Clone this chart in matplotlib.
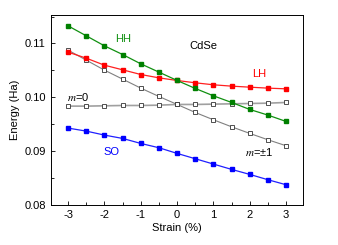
import numpy as np
import matplotlib
matplotlib.use('Agg')
import matplotlib.pyplot as plt
from matplotlib.ticker import MultipleLocator

plt.rcParams['font.family'] = ['Liberation Sans', 'DejaVu Sans']
plt.rcParams['mathtext.fontset'] = 'stix'

strain = [-3, -2.5, -2, -1.5, -1, -0.5, 0, 0.5, 1, 1.5, 2, 2.5, 3]
hh = [0.11327, 0.11142, 0.10956, 0.10795, 0.10622, 0.10468, 0.10313,
      0.10165, 0.10028, 0.09905, 0.09775, 0.09670, 0.09552]
lh = [0.10839, 0.10727, 0.10597, 0.10511, 0.10424, 0.10362, 0.10313,
      0.10270, 0.10233, 0.10208, 0.10189, 0.10171, 0.10158]
m_pm1 = [0.10876, 0.10690, 0.10505, 0.10338, 0.10171, 0.10016, 0.09868,
         0.09719, 0.09583, 0.09453, 0.09330, 0.09212, 0.09101]
m_0 = [0.09837, 0.09837, 0.09843, 0.09849, 0.09849, 0.09855, 0.09868,
       0.09868, 0.09874, 0.09880, 0.09886, 0.09892, 0.09905]
so = [0.09429, 0.09373, 0.09299, 0.09237, 0.09144, 0.09064, 0.08959,
      0.08860, 0.08761, 0.08662, 0.08569, 0.08470, 0.08377]

fig = plt.figure(figsize=(3.38, 2.45), dpi=100)
ax = fig.add_axes([0.150, 0.163, 0.746, 0.776])

ax.plot(strain, m_0, color='#a0a0a0', linewidth=1.2, marker='s', markersize=2.6,
        markerfacecolor='white', markeredgecolor='#333333', markeredgewidth=0.6)
ax.plot(strain, m_pm1, color='#808080', linewidth=0.8, marker='s', markersize=2.6,
        markerfacecolor='white', markeredgecolor='#333333', markeredgewidth=0.6)
ax.plot(strain, lh, color='#ff2020', linewidth=0.9, marker='s', markersize=2.6,
        markerfacecolor='#ff0000', markeredgecolor='#ff0000')
ax.plot(strain, hh, color='#109010', linewidth=0.9, marker='s', markersize=2.6,
        markerfacecolor='#008000', markeredgecolor='#008000')
ax.plot(strain, so, color='#2020ff', linewidth=0.9, marker='s', markersize=2.6,
        markerfacecolor='#0000ff', markeredgecolor='#0000ff')

ax.text(-1.49, 0.1109, 'HH', color='#109010', fontsize=8, ha='center', va='center')
ax.text(0.73, 0.1096, 'CdSe', color='black', fontsize=8, ha='center', va='center')
ax.text(2.27, 0.1044, 'LH', color='#ff0000', fontsize=8, ha='center', va='center')
ax.text(-2.72, 0.1001, '$m$=0', color='black', fontsize=8, ha='center', va='center')
ax.text(-1.81, 0.0899, 'SO', color='#0000ff', fontsize=8, ha='center', va='center')
ax.text(2.27, 0.0898, '$m$=\u00b11', color='black', fontsize=8, ha='center', va='center')

ax.set_xlim(-3.48, 3.46)
ax.set_ylim(0.08, 0.1153)
ax.xaxis.set_major_locator(MultipleLocator(1))
ax.xaxis.set_minor_locator(MultipleLocator(0.5))
ax.yaxis.set_major_locator(MultipleLocator(0.01))
ax.yaxis.set_minor_locator(MultipleLocator(0.005))
ax.set_xticks([-3, -2, -1, 0, 1, 2, 3])
ax.set_xticklabels(['-3', '-2', '-1', '0', '1', '2', '3'])
ax.set_yticks([0.08, 0.09, 0.10, 0.11])
ax.set_yticklabels(['0.08', '0.09', '0.10', '0.11'])
ax.tick_params(which='both', direction='in', labelsize=8, width=0.6)
ax.tick_params(which='major', length=3)
ax.tick_params(which='minor', length=2)
for s in ax.spines.values():
    s.set_linewidth(0.7)

ax.set_xlabel('Strain (%)', fontsize=8, labelpad=2)
ax.set_ylabel('Energy (Ha)', fontsize=8, labelpad=3)

fig.savefig('out.png', dpi=100)
